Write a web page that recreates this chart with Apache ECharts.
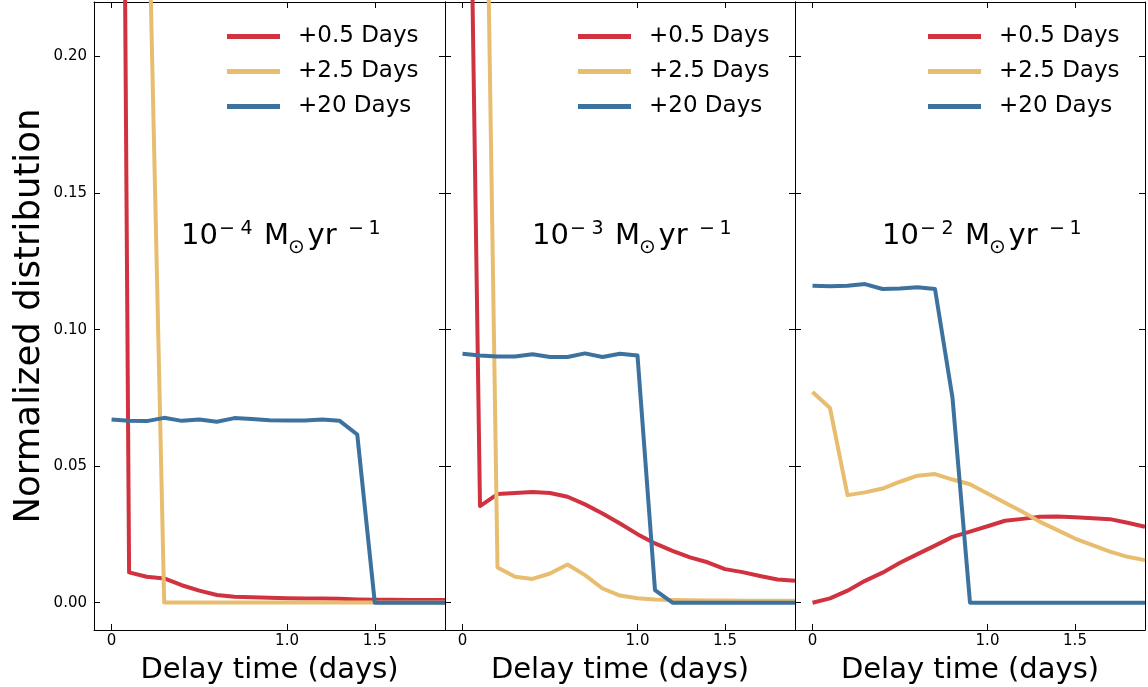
<!DOCTYPE html>
<html>
<head>
<meta charset="utf-8">
<script src="https://cdn.jsdelivr.net/npm/echarts@6/dist/echarts.min.js"></script>
<style>
html, body { margin: 0; padding: 0; background: #fff; }
#main { width: 1148px; height: 687px; }
</style>
</head>
<body>
<div id="main"></div>
<script>
// delay time (days)
var delayDays = [0, 0.1, 0.2, 0.3, 0.4, 0.5, 0.6, 0.7, 0.8, 0.9, 1.0, 1.1, 1.2, 1.3, 1.4, 1.5, 1.6, 1.7, 1.8, 1.9]

var seriesNames = ['+0.5 Days', '+2.5 Days', '+20 Days']
var panelExponents = ['4', '3', '2']
var xTickValues = [0, 1.0, 1.5]
var yTickValues = [0, 0.05, 0.10, 0.15, 0.20]

// 10^-4 Msun/yr
var rate4Day05 = [0.94, 0.0111, 0.0095, 0.0089, 0.0064, 0.0044, 0.0028, 0.0022, 0.0020, 0.0018, 0.0016, 0.0015, 0.0015, 0.0014, 0.0012, 0.0011, 0.0011, 0.0010, 0.0010, 0.0010]
var rate4Day25 = [0.36, 0.35, 0.29, 0.0001, 0.0001, 0.0001, 0.0001, 0.0001, 0.0001, 0.0001, 0.0001, 0.0001, 0.0001, 0.0001, 0.0001, 0.0001, 0.0001, 0.0001, 0.0001, 0.0001]
var rate4Day20 = [0.0671, 0.0666, 0.0665, 0.0677, 0.0666, 0.0671, 0.0663, 0.0676, 0.0673, 0.0668, 0.0667, 0.0667, 0.0671, 0.0666, 0.0616, 0, 0, 0, 0, 0]

// 10^-3 Msun/yr
var rate3Day05 = [0.47, 0.0354, 0.0398, 0.0402, 0.0405, 0.0402, 0.0388, 0.0360, 0.0327, 0.0290, 0.0251, 0.0217, 0.0190, 0.0166, 0.0148, 0.0123, 0.0112, 0.0098, 0.0085, 0.0080]
var rate3Day25 = [0.49, 0.43, 0.0129, 0.0095, 0.0087, 0.0107, 0.0140, 0.0101, 0.0052, 0.0026, 0.0016, 0.0012, 0.0010, 0.0009, 0.0008, 0.0008, 0.0007, 0.0007, 0.0007, 0.0007]
var rate3Day20 = [0.0912, 0.0905, 0.0902, 0.0902, 0.0910, 0.0900, 0.0900, 0.0913, 0.0900, 0.0912, 0.0905, 0.0046, 0, 0, 0, 0, 0, 0, 0, 0]

// 10^-2 Msun/yr
var rate2Day05 = [0.0000, 0.0016, 0.0044, 0.0080, 0.0110, 0.0146, 0.0178, 0.0209, 0.0241, 0.0260, 0.0280, 0.0300, 0.0307, 0.0315, 0.0316, 0.0313, 0.0309, 0.0306, 0.0293, 0.0278]
var rate2Day25 = [0.0772, 0.0713, 0.0394, 0.0404, 0.0418, 0.0443, 0.0465, 0.0471, 0.0451, 0.0434, 0.0400, 0.0366, 0.0333, 0.0296, 0.0266, 0.0235, 0.0211, 0.0187, 0.0168, 0.0156]
var rate2Day20 = [0.1161, 0.1159, 0.1161, 0.1167, 0.1149, 0.1151, 0.1155, 0.1149, 0.0750, 0, 0, 0, 0, 0, 0, 0, 0, 0, 0, 0]

var panels = [
  [rate4Day05, rate4Day25, rate4Day20],
  [rate3Day05, rate3Day25, rate3Day20],
  [rate2Day05, rate2Day25, rate2Day20]
]

var colors = ['#d13240', '#e8bd6f', '#3d729e']
var font = 'DejaVu Sans'
var gridLefts = [94, 445, 795]
var gridWidths = [351, 350, 350]

var myChart = echarts.init(document.getElementById('main'))

var grids = []
var xAxes = []
var yAxes = []
var series = []
var legends = []
var graphics = []

function pairs(xs, ys) {
  var out = []
  for (var i = 0; i < xs.length; i++) out.push([xs[i], ys[i]])
  return out
}

// one piece of the "10^-n Msun yr^-1" label
function labelPiece(text, x, y, size) {
  return {
    type: 'text',
    x: x,
    y: y,
    style: { text: text, fontFamily: font, fontSize: size, fill: '#000', align: 'left', verticalAlign: 'middle' }
  }
}

for (var p = 0; p < 3; p++) {
  // outerBoundsMode none: keep the plot box where it is, names may sit near the edge
  grids.push({ left: gridLefts[p], top: 2, width: gridWidths[p], height: 628, outerBoundsMode: 'none' })

  // bottom + top x axes
  xAxes.push({
    type: 'value', gridIndex: p, position: 'bottom', min: -0.1, max: 1.9,
    name: 'Delay time (days)', nameLocation: 'middle', nameGap: 26,
    nameTextStyle: { fontFamily: font, fontSize: 29, color: '#000' },
    axisLine: { onZero: false, lineStyle: { color: '#000', width: 1 } },
    axisTick: { inside: true, length: 6, customValues: xTickValues, lineStyle: { color: '#000' } },
    axisLabel: {
      customValues: xTickValues, margin: 4, fontFamily: font, fontSize: 15, color: '#000',
      formatter: function(v) { return v === 0 ? '0' : v.toFixed(1) }
    },
    splitLine: { show: false }
  })
  xAxes.push({
    type: 'value', gridIndex: p, position: 'top', min: -0.1, max: 1.9,
    axisLine: { onZero: false, lineStyle: { color: '#000', width: 1 } },
    axisTick: { inside: true, length: 6, customValues: xTickValues, lineStyle: { color: '#000' } },
    axisLabel: { show: false },
    splitLine: { show: false }
  })

  // left + right y axes
  yAxes.push({
    type: 'value', gridIndex: p, position: 'left', min: -0.01, max: 0.22,
    name: p === 0 ? 'Normalized distribution' : '', nameLocation: 'middle', nameGap: 46,
    nameTextStyle: { fontFamily: font, fontSize: 35.5, color: '#000' },
    axisLine: { show: true, onZero: false, lineStyle: { color: '#000', width: 1 } },
    axisTick: { show: true, inside: true, length: 6, customValues: yTickValues, lineStyle: { color: '#000' } },
    axisLabel: {
      show: p === 0, customValues: yTickValues, margin: 7, fontFamily: font, fontSize: 15, color: '#000',
      formatter: function(v) { return v.toFixed(2) }
    },
    splitLine: { show: false }
  })
  yAxes.push({
    type: 'value', gridIndex: p, position: 'right', min: -0.01, max: 0.22,
    axisLine: { show: true, onZero: false, lineStyle: { color: '#000', width: 1 } },
    axisTick: { show: true, inside: true, length: 6, customValues: yTickValues, lineStyle: { color: '#000' } },
    axisLabel: { show: false },
    splitLine: { show: false }
  })

  for (var s = 0; s < 3; s++) {
    series.push({
      name: seriesNames[s],
      type: 'line',
      xAxisIndex: p * 2,
      yAxisIndex: p * 2,
      data: pairs(delayDays, panels[p][s]),
      symbol: 'none',
      clip: true,
      itemStyle: { color: colors[s] },
      lineStyle: { color: colors[s], width: 4, join: 'round' },
      z: 2 + s
    })
  }

  legends.push({
    left: gridLefts[p] + 133,
    top: 19,
    orient: 'vertical',
    padding: 0,
    itemGap: 0,
    icon: 'rect',
    itemWidth: 53,
    itemHeight: 5,
    selectedMode: false,
    data: seriesNames,
    textStyle: { fontFamily: font, fontSize: 23, color: '#000', lineHeight: 35, padding: [0, 0, 0, 13] }
  })

  // mass-loss rate label, built from pieces so the super/subscripts sit right
  graphics.push({
    type: 'group',
    x: gridLefts[p],
    y: 0,
    children: [
      labelPiece('10', 87, 236, 29),
      labelPiece('−', 125, 229, 19),
      labelPiece(panelExponents[p], 146.5, 229, 19),
      labelPiece('M', 170, 236, 29),
      labelPiece('⊙', 194, 248, 20),
      labelPiece('yr', 213.5, 236, 29),
      labelPiece('−', 254, 229, 19),
      labelPiece('1', 274.5, 229, 19)
    ]
  })
}

var option = {
  animation: false,
  backgroundColor: '#fff',
  grid: grids,
  xAxis: xAxes,
  yAxis: yAxes,
  legend: legends,
  series: series,
  graphic: graphics
}

myChart.setOption(option)
window.addEventListener('resize', () => {
  myChart.resize()
}, false)
</script>
</body>
</html>
